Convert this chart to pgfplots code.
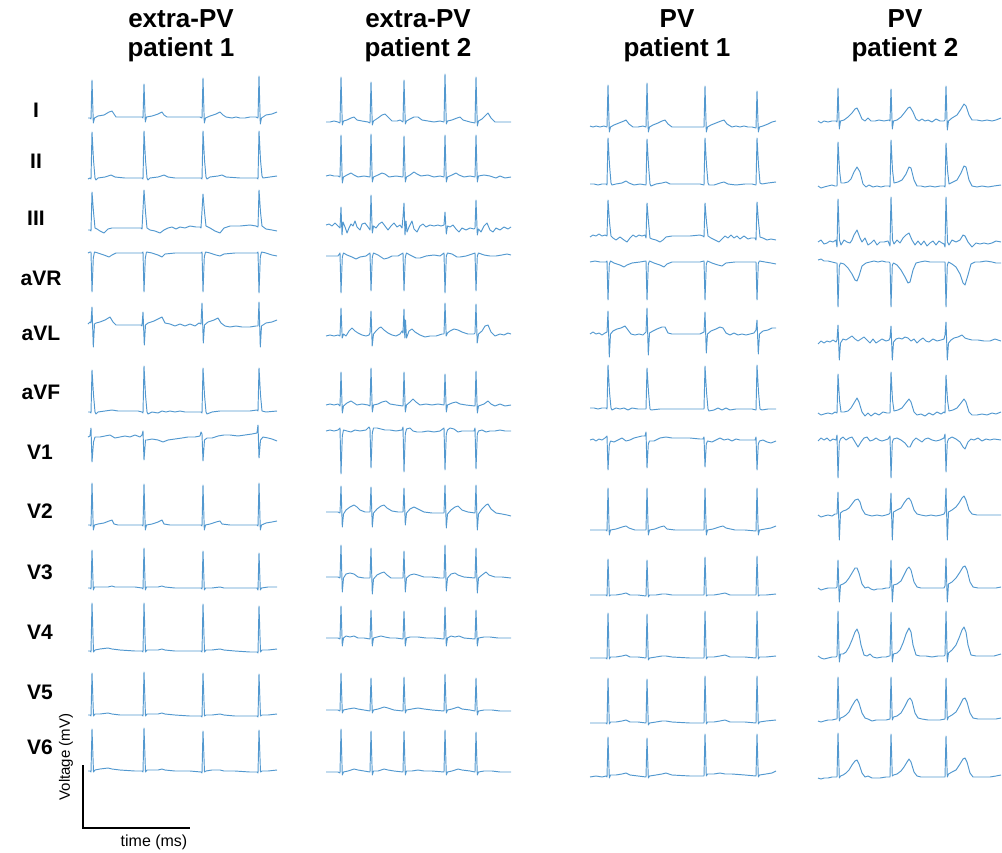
\documentclass[border=0pt]{standalone}
\usepackage{fontspec}
\setmainfont{Liberation Sans}
\usepackage{pgfplots}
\pgfplotsset{compat=1.18}
\definecolor{ecg}{RGB}{82,152,207}
\pgfplotsset{tr/.style={color=ecg,solid,line width=0.95pt,line join=round,mark=none}}
\begin{document}
\begin{tikzpicture}
\useasboundingbox (0,0) rectangle (1002pt,852pt);
\begin{axis}[at={(0,0)},anchor=south west,
  width=1002pt,height=852pt,scale only axis,
  xmin=0,xmax=1002,ymin=0,ymax=852,y dir=reverse,
  axis lines=none,ticks=none,clip=false]
% ---------- column 1: extra-PV patient 1 ----------
\addplot[tr] coordinates {(88,118)(90,118)(91,119)(92,80)(93.3,123)(94.5,118)(98,116)(104,115)(109,112)(112,111)(114,114)(116,117)(122,117)(130,117)(138,117)(142,117)(143,118)(144,84)(145.3,122)(146.5,117)(152,116)(158,114)(162,112)(164,115)(167,117)(175,117)(185,117)(195,117)(200,117)(202,118)(203,78)(204.3,123)(205.5,118)(210,116)(216,114)(220,112)(223,115)(226,117)(232,118)(236,117)(240,118)(245,118)(250,117)(256,117)(258,118)(259,76)(260.3,124)(261.5,118)(266,115)(272,114)(277,112)};
\addplot[tr] coordinates {(88,179)(90,178)(91,179)(92,132)(93.5,160)(95,178)(96,180)(98,178)(105,177)(111,175)(115,177)(125,178)(135,178)(142,178)(143,179)(144,131)(145.5,160)(147,178)(148,180)(150,178)(158,177)(164,175)(168,177)(175,178)(185,178)(195,178)(201,178)(202,179)(203,131)(204.5,160)(206,177)(207,179)(210,177)(218,176)(222,175)(226,177)(240,178)(250,178)(257,178)(258,179)(259,131)(260.5,160)(262,176)(263,178)(270,177)(277,176)};
\addplot[tr] coordinates {(88,230)(90,230)(91,231)(92,192)(93.5,212)(95,228)(97,229)(100,231)(104,233)(108,229)(112,228)(118,228)(125,228)(135,228)(141,228)(142,229)(144,190)(145.5,212)(147,228)(150,230)(155,231)(160,233)(164,230)(168,228)(172,227)(176,229)(180,227)(185,228)(190,226)(196,227)(200,227)(201,228)(203,194)(204.5,212)(206,226)(210,228)(215,231)(220,233)(224,228)(230,226)(240,226)(250,225)(256,226)(258,227)(259,190)(260.5,212)(262,226)(266,229)(272,230)(277,231)};
\addplot[tr] coordinates {(88,253)(90,252)(91,252)(92,292)(93.3,258)(94.5,252)(98,253)(104,255)(109,257)(112,255)(116,253)(125,253)(135,253)(142,253)(143,252)(144,292)(145.3,258)(146.5,252)(152,253)(158,255)(162,257)(165,254)(175,253)(190,253)(201,253)(202,252)(203,292)(204.3,257)(205.5,252)(210,253)(216,255)(220,256)(224,254)(235,253)(245,253)(257,253)(258,252)(259,293)(260.3,257)(261.5,252)(266,253)(272,255)(277,256)};
\addplot[tr] coordinates {(88,324)(90,322)(91,323)(92,307)(93.3,347)(94.5,324)(96,323)(100,322)(105,320)(110,317)(113,322)(116,325)(125,325)(135,325)(141,325)(142,326)(143,312)(144.3,345)(145.5,325)(148,323)(154,321)(160,318)(162,317)(165,323)(170,324)(175,326)(180,324)(185,326)(190,324)(195,326)(199,323)(201,324)(202,303)(203.3,343)(204.5,325)(208,322)(214,320)(218,318)(221,323)(225,326)(230,327)(236,326)(242,327)(250,327)(256,326)(258,326)(259,302)(260.3,347)(261.5,326)(266,323)(272,322)(277,320)};
\addplot[tr] coordinates {(88,412)(90,412)(91,413)(92,370)(93.5,395)(95,412)(96,414)(98,412)(105,411)(112,410)(118,411)(128,411)(138,411)(142,412)(143,413)(144,366)(145.5,395)(147,412)(148,414)(152,412)(158,413)(162,411)(166,412)(170,411)(175,412)(180,411)(185,412)(195,412)(201,412)(202,413)(203,368)(204.5,395)(206,412)(207,414)(212,412)(220,411)(228,411)(240,411)(250,411)(257,410)(258,411)(259,368)(260.5,395)(262,411)(266,412)(277,411)};
\addplot[tr] coordinates {(88,437)(90,436)(91,428)(92,462)(93.5,442)(95,437)(100,437)(105,436)(110,435)(115,438)(120,437)(125,436)(130,437)(135,435)(140,437)(142,435)(143,431)(144,460)(145.5,440)(147,440)(152,439)(158,440)(163,442)(168,440)(175,439)(182,438)(188,437)(195,437)(200,436)(201,432)(202,434)(203,461)(204.5,440)(207,438)(212,438)(218,436)(224,435)(230,435)(238,436)(245,435)(252,434)(257,433)(258,425)(259,458)(260.5,440)(263,437)(268,438)(272,439)(277,441)};
\addplot[tr] coordinates {(88,525)(90,525)(91,526)(92,483)(93.3,530)(94.5,525)(98,524)(104,523)(109,521)(112,520)(114,524)(118,525)(130,525)(142,525)(143,526)(144,484)(145.3,530)(146.5,525)(152,524)(158,522)(162,520)(164,524)(170,525)(185,525)(201,525)(202,526)(203,485)(204.3,530)(205.5,525)(210,524)(216,522)(220,521)(222,524)(230,525)(245,525)(257,525)(258,526)(259,483)(260.3,530)(261.5,525)(266,523)(272,522)(277,521)};
\addplot[tr] coordinates {(88,588)(90,588)(91,589)(92,550)(93.3,590)(94.5,587)(100,587)(108,587)(112,586)(115,587)(125,587)(135,587)(142,588)(143,589)(144,548)(145.3,590)(146.5,587)(152,587)(158,587)(162,586)(165,587)(175,588)(190,588)(201,588)(202,589)(203,551)(204.3,590)(205.5,588)(212,588)(220,587)(224,588)(235,588)(250,588)(257,588)(258,590)(259,553)(260.3,590)(261.5,588)(268,587)(277,587)};
\addplot[tr] coordinates {(88,651)(90,651)(91,652)(92,603)(93.5,652)(95,650)(100,649)(108,648)(112,649)(120,650)(135,651)(142,651)(143,652)(144,603)(145.5,652)(147,650)(152,650)(158,650)(162,649)(165,650)(175,651)(190,651)(201,651)(202,652)(203,604)(204.5,652)(206,650)(212,650)(220,649)(224,650)(235,651)(250,652)(257,652)(258,653)(259,606)(260.5,652)(262,650)(268,650)(277,649)};
\addplot[tr] coordinates {(88,715)(90,715)(91,716)(92,673)(93.5,716)(95,714)(100,714)(108,713)(112,714)(120,715)(135,715)(142,715)(143,716)(144,672)(145.5,716)(147,714)(152,714)(158,714)(162,713)(165,714)(175,715)(190,716)(201,716)(202,717)(203,673)(204.5,716)(206,715)(212,715)(220,714)(224,715)(235,716)(250,716)(257,716)(258,717)(259,674)(260.5,716)(262,715)(268,715)(277,714)};
\addplot[tr] coordinates {(88,771)(90,771)(91,772)(92,729)(93.5,772)(95,770)(100,769)(108,768)(112,769)(120,770)(135,771)(142,771)(143,772)(144,728)(145.5,772)(147,770)(152,770)(158,770)(162,769)(165,770)(175,771)(190,771)(201,772)(202,773)(203,731)(204.5,772)(206,771)(212,770)(220,770)(224,771)(235,771)(250,772)(257,772)(258,773)(259,730)(260.5,772)(262,771)(268,771)(277,770)};
% ---------- column 2: extra-PV patient 2 ----------
\addplot[tr] coordinates {(326,122)(330,122)(334,121)(338,122)(340,123)(341,77)(342.3,125)(343.5,121)(347,120)(351,118)(354,117)(357,120)(362,121)(368,122)(370,123)(371,82)(372.3,125)(373.5,121)(378,118)(382,115)(385,114)(388,117)(392,121)(397,121)(400,120)(403,122)(404,80)(405.3,124)(406.5,121)(410,119)(414,117)(418,117)(422,120)(428,121)(434,122)(440,121)(444,122)(445,74)(446.3,124)(447.5,121)(452,120)(457,118)(460,117)(463,120)(470,122)(475,123)(476,77)(477.3,126)(478.5,121)(482,119)(486,115)(488,113)(491,118)(495,122)(500,122)(505,122)(511,122)};
\addplot[tr] coordinates {(326,176)(330,175)(334,176)(338,176)(340,177)(341,135)(342.3,183)(343.5,177)(347,175)(351,173)(354,175)(358,177)(364,176)(370,177)(371,134)(372.3,182)(373.5,177)(378,175)(382,173)(385,174)(389,177)(396,176)(403,177)(404,136)(405.3,182)(406.5,177)(410,175)(414,172)(417,174)(421,176)(428,175)(434,177)(440,176)(444,177)(445,135)(446.3,182)(447.5,177)(452,175)(456,173)(459,175)(464,177)(470,176)(475,177)(476,135)(477.3,182)(478.5,176)(484,175)(490,176)(496,178)(500,176)(505,178)(511,177)};
\addplot[tr] coordinates {(326,225)(329,224)(332,226)(335,223)(338,226)(340,228)(341,207)(342,235)(343,222)(345,227)(347,233)(349,228)(351,224)(353,226)(355,221)(357,227)(360,230)(362,224)(365,223)(368,227)(370,230)(371,195)(372.3,233)(373.5,226)(376,228)(379,224)(382,222)(385,226)(388,230)(391,226)(394,223)(397,227)(400,225)(402,228)(403,217)(404,203)(405,235)(406,221)(407,232)(409,227)(412,221)(414,229)(417,232)(420,226)(423,224)(426,227)(430,225)(434,226)(438,225)(441,226)(444,225)(445,212)(446.3,234)(447.5,226)(450,227)(453,225)(456,229)(459,232)(462,228)(466,230)(470,228)(474,229)(475,228)(476,200)(477.3,235)(478.5,229)(481,232)(484,226)(487,223)(490,230)(493,232)(496,228)(500,230)(504,227)(508,229)(511,227)};
\addplot[tr] coordinates {(326,256)(332,256)(338,256)(340,253)(341,293)(342.3,257)(343.5,253)(347,255)(352,257)(356,259)(360,257)(366,256)(370,253)(371,291)(372.3,257)(373.5,253)(378,255)(384,259)(388,258)(392,256)(398,256)(403,253)(404,291)(405.3,257)(406.5,253)(410,255)(416,258)(420,258)(426,256)(434,255)(440,256)(444,253)(445,293)(446.3,256)(447.5,253)(452,254)(457,257)(460,257)(466,256)(475,253)(476,291)(477.3,256)(478.5,253)(484,255)(490,256)(496,256)(502,255)(507,254)(511,255)};
\addplot[tr] coordinates {(326,336)(330,335)(334,336)(338,335)(340,336)(341,308)(342.2,338)(343.5,334)(346,336)(349,331)(352,328)(355,331)(358,333)(362,335)(366,336)(369,335)(370,333)(371,311)(372.2,346)(373.5,334)(376,331)(379,328)(381,327)(384,330)(388,333)(392,335)(396,336)(400,334)(402,331)(403,333)(404,309)(404.8,338)(405.5,320)(406.5,338)(409,331)(412,329)(415,332)(420,335)(425,337)(430,336)(436,336)(442,334)(444,334)(445,303)(446.2,336)(447.5,333)(450,331)(454,329)(458,330)(462,332)(468,334)(474,334)(475,333)(476,304)(477.2,343)(478.5,334)(482,331)(485,326)(488,325)(491,332)(495,336)(500,334)(504,335)(508,333)(511,334)};
\addplot[tr] coordinates {(326,405)(330,404)(334,405)(338,404)(340,406)(341,372)(342.3,413)(343.5,406)(347,403)(351,401)(354,403)(357,405)(362,404)(368,405)(370,406)(371,368)(372.3,412)(373.5,405)(378,404)(382,402)(386,401)(390,404)(396,405)(403,406)(404,372)(405.3,412)(406.5,405)(410,402)(413,399)(416,402)(420,405)(426,404)(432,405)(438,404)(444,405)(445,374)(446.3,412)(447.5,405)(452,403)(456,402)(460,404)(466,405)(475,406)(476,371)(477.3,413)(478.5,406)(484,404)(488,401)(491,404)(495,406)(500,404)(505,406)(511,405)};
\addplot[tr] coordinates {(326,431)(330,430)(334,431)(338,430)(340,428)(341,474)(342.3,436)(343.5,430)(347,431)(351,432)(355,430)(360,431)(366,430)(369,427)(370,429)(371,468)(372.3,433)(373.5,428)(377,428)(381,429)(385,430)(390,430)(396,431)(402,430)(403,427)(404,472)(405.3,434)(406.5,429)(410,428)(413,431)(417,432)(422,432)(428,431)(434,432)(440,431)(444,428)(445,470)(446.3,434)(447.5,430)(450,428)(454,429)(458,432)(462,431)(468,431)(474,431)(475,428)(476,469)(477.3,434)(478.5,431)(482,430)(486,432)(490,431)(495,431)(500,430)(505,431)(511,431)};
\addplot[tr] coordinates {(326,512)(332,512)(338,512)(340,513)(341,486)(342.3,527)(343.5,514)(346,510)(350,507)(354,505)(357,507)(360,510)(365,512)(370,512)(371,487)(372.3,527)(373.5,513)(377,509)(381,506)(384,505)(387,508)(392,511)(398,512)(403,512)(404,488)(405.3,525)(406.5,513)(410,509)(414,507)(418,509)(424,512)(432,513)(440,513)(444,513)(445,485)(446.3,528)(447.5,514)(451,510)(455,507)(458,506)(462,510)(468,512)(475,513)(476,485)(477.3,530)(478.5,514)(482,509)(486,505)(488,504)(491,509)(496,513)(502,514)(507,515)(511,516)};
\addplot[tr] coordinates {(326,577)(332,577)(338,577)(340,578)(341,545)(342.3,592)(343.5,578)(346,574)(350,573)(354,574)(358,577)(364,578)(370,578)(371,548)(372.3,594)(373.5,579)(377,575)(381,573)(384,572)(387,575)(391,578)(397,578)(403,578)(404,551)(405.3,592)(406.5,578)(410,575)(414,574)(418,575)(424,577)(432,577)(440,578)(444,578)(445,545)(446.3,591)(447.5,578)(451,574)(455,573)(458,575)(464,577)(475,578)(476,548)(477.3,593)(478.5,578)(482,575)(486,572)(489,575)(495,577)(502,577)(511,578)};
\addplot[tr] coordinates {(326,638)(332,638)(338,638)(340,639)(341,606)(342.3,646)(343.5,638)(346,636)(350,637)(354,636)(358,638)(364,638)(370,639)(371,610)(372.3,646)(373.5,638)(377,637)(381,636)(385,637)(390,638)(396,638)(403,639)(404,611)(405.3,646)(406.5,638)(410,637)(418,637)(426,638)(434,638)(444,639)(445,607)(446.3,646)(447.5,638)(451,636)(455,637)(459,636)(464,638)(475,639)(476,610)(477.3,646)(478.5,638)(484,637)(490,637)(498,638)(505,638)(511,638)};
\addplot[tr] coordinates {(326,710)(332,710)(338,710)(340,711)(341,673)(342.3,713)(343.5,710)(348,709)(354,708)(358,709)(364,710)(370,711)(371,678)(372.3,713)(373.5,710)(378,709)(384,707)(388,708)(394,710)(403,711)(404,677)(405.3,713)(406.5,710)(412,709)(418,708)(424,709)(432,710)(444,711)(445,674)(446.3,713)(447.5,710)(452,709)(458,707)(462,709)(470,710)(475,711)(476,678)(477.3,715)(478.5,711)(484,710)(492,710)(500,711)(511,711)};
\addplot[tr] coordinates {(326,772)(332,772)(338,772)(340,773)(341,729)(342.3,775)(343.5,772)(348,771)(354,769)(358,770)(364,771)(370,772)(371,731)(372.3,775)(373.5,771)(378,771)(384,769)(388,770)(394,771)(403,772)(404,731)(405.3,775)(406.5,771)(412,771)(418,770)(424,771)(432,771)(444,772)(445,730)(446.3,775)(447.5,772)(452,771)(458,769)(462,770)(470,771)(475,772)(476,732)(477.3,775)(478.5,772)(484,771)(492,771)(500,772)(511,772)};
% ---------- column 3: PV patient 1 ----------
\addplot[tr] coordinates {(590,126)(593,127)(596,126)(600,127)(604,126)(607,127)(608,85)(609.3,132)(610.5,127)(614,125)(619,123)(624,121)(626,120)(629,124)(633,127)(638,127)(643,126)(646,127)(647,83)(648.3,132)(649.5,127)(653,125)(658,123)(662,121)(665,120)(668,124)(672,127)(680,127)(690,127)(700,127)(704,127)(705,86)(706.3,132)(707.5,127)(711,125)(716,123)(721,121)(724,120)(727,124)(732,127)(736,126)(740,127)(744,126)(748,127)(752,127)(756,128)(757,91)(758.3,132)(759.5,127)(763,126)(768,124)(772,122)(776,121)};
\addplot[tr] coordinates {(590,184)(594,184)(598,185)(602,184)(606,184)(607,185)(608,138)(609.5,165)(611,183)(612,185)(616,184)(622,183)(626,181)(629,183)(634,185)(640,184)(646,185)(647,139)(648.5,165)(650,184)(651,186)(656,184)(662,183)(666,182)(670,184)(680,184)(690,184)(700,184)(704,185)(705,138)(706.5,165)(708,183)(709,185)(714,185)(720,183)(724,182)(728,184)(736,185)(745,184)(752,184)(756,185)(757,138)(758.5,165)(760,183)(762,184)(768,183)(776,182)};
\addplot[tr] coordinates {(590,237)(593,235)(596,236)(599,234)(602,236)(605,235)(607,236)(608,200)(609.5,222)(611,236)(613,238)(616,240)(620,237)(624,240)(627,242)(630,238)(633,235)(636,237)(639,235)(642,236)(645,235)(646,238)(647,203)(648.5,222)(650,238)(652,239)(656,240)(660,242)(663,240)(666,237)(672,236)(680,236)(690,236)(700,235)(703,236)(704,237)(705,203)(706.5,222)(708,236)(711,238)(715,240)(719,242)(722,239)(725,236)(728,238)(731,235)(734,238)(737,236)(740,239)(744,236)(748,239)(751,238)(755,238)(756,240)(757,202)(758.5,222)(760,237)(763,238)(767,240)(771,239)(776,240)};
\addplot[tr] coordinates {(590,262)(595,261)(600,262)(606,262)(607,261)(608,300)(609.3,264)(610.5,261)(614,263)(620,265)(624,267)(627,265)(632,263)(640,262)(646,261)(647,300)(648.3,264)(649.5,261)(654,263)(660,265)(664,267)(667,264)(672,262)(685,262)(700,262)(704,261)(705,300)(706.3,264)(707.5,261)(712,263)(718,265)(722,266)(726,263)(735,262)(745,262)(756,262)(757,300)(758.3,263)(759.5,261)(765,262)(771,263)(776,264)};
\addplot[tr] coordinates {(590,334)(593,332)(596,334)(599,333)(602,335)(605,333)(607,332)(608,311)(609.3,357)(610.5,334)(613,331)(617,329)(621,328)(625,326)(628,330)(631,334)(635,335)(639,334)(643,335)(646,332)(647,308)(648.3,355)(649.5,333)(653,331)(657,329)(662,327)(665,327)(668,333)(672,334)(680,334)(690,334)(700,334)(704,332)(705,312)(706.3,353)(707.5,334)(711,331)(716,329)(720,327)(723,328)(726,333)(730,335)(734,333)(738,335)(742,334)(746,335)(750,334)(754,333)(756,330)(757,320)(758.3,354)(759.5,334)(763,331)(768,330)(772,328)(776,328)};
\addplot[tr] coordinates {(590,408)(594,408)(598,409)(602,408)(606,408)(607,409)(608,365)(609.5,392)(611,408)(612,410)(616,408)(620,409)(624,408)(628,410)(632,408)(638,409)(646,409)(647,368)(648.5,392)(650,409)(651,410)(660,409)(670,409)(680,409)(690,409)(700,409)(704,409)(705,366)(706.5,392)(708,409)(709,411)(714,410)(718,408)(722,410)(726,408)(730,410)(736,409)(745,409)(752,409)(756,410)(757,365)(758.5,392)(760,409)(762,410)(768,409)(776,409)};
\addplot[tr] coordinates {(590,440)(593,439)(596,441)(599,439)(602,440)(605,438)(607,436)(608,470)(609.3,445)(610.5,441)(614,442)(618,440)(622,438)(626,441)(630,440)(634,438)(638,437)(642,436)(645,436)(646,432)(647,468)(648.3,444)(649.5,441)(654,441)(660,438)(666,437)(672,438)(680,438)(690,438)(700,439)(703,439)(704,437)(705,467)(706.3,444)(707.5,441)(712,442)(716,440)(720,438)(724,440)(728,439)(732,441)(736,439)(740,440)(745,440)(750,440)(755,440)(756,437)(757,470)(758.3,444)(759.5,441)(763,440)(767,442)(771,443)(776,441)};
\addplot[tr] coordinates {(590,530)(596,530)(602,530)(606,530)(607,531)(608,488)(609.3,535)(610.5,530)(616,529)(622,527)(626,526)(629,528)(635,530)(642,530)(646,530)(647,488)(648.3,535)(649.5,530)(655,529)(660,527)(664,526)(667,529)(675,530)(690,530)(704,530)(705,488)(706.3,535)(707.5,530)(713,529)(719,527)(723,526)(726,528)(735,530)(745,530)(756,531)(757,488)(758.3,535)(759.5,530)(765,529)(771,528)(776,526)};
\addplot[tr] coordinates {(590,595)(596,595)(602,595)(606,595)(607,596)(608,559)(609.3,596)(610.5,595)(616,595)(622,594)(626,593)(630,595)(638,595)(646,596)(647,560)(648.3,597)(649.5,595)(656,595)(662,594)(666,594)(672,595)(690,595)(704,595)(705,557)(706.3,596)(707.5,595)(714,595)(720,594)(725,593)(730,595)(745,595)(756,595)(757,556)(758.3,596)(759.5,595)(766,595)(776,594)};
\addplot[tr] coordinates {(590,658)(596,658)(602,658)(606,658)(607,659)(608,613)(609.3,659)(610.5,657)(616,657)(622,656)(626,655)(630,657)(638,657)(646,658)(647,614)(648.3,660)(649.5,658)(656,657)(662,656)(666,656)(672,657)(690,658)(704,658)(705,611)(706.3,659)(707.5,657)(714,657)(720,656)(725,655)(730,657)(745,657)(756,658)(757,611)(758.3,659)(759.5,657)(766,657)(776,656)};
\addplot[tr] coordinates {(590,723)(596,723)(602,723)(606,723)(607,724)(608,678)(609.3,724)(610.5,722)(616,722)(622,721)(626,720)(630,722)(638,722)(646,723)(647,679)(648.3,725)(649.5,723)(656,722)(662,721)(666,721)(672,722)(690,723)(704,723)(705,676)(706.3,724)(707.5,722)(714,722)(720,721)(725,720)(730,722)(745,722)(756,723)(757,676)(758.3,724)(759.5,722)(766,721)(776,720)};
\addplot[tr] coordinates {(590,777)(596,776)(602,777)(606,776)(607,777)(608,737)(609.3,778)(610.5,775)(616,775)(622,774)(626,773)(630,775)(638,776)(646,777)(647,738)(648.3,778)(649.5,776)(656,775)(662,774)(666,773)(672,775)(690,776)(704,776)(705,734)(706.3,776)(707.5,774)(714,774)(720,773)(725,774)(732,774)(745,775)(756,776)(757,734)(758.3,777)(759.5,775)(766,774)(772,773)(776,771)};
% ---------- column 4: PV patient 2 ----------
\addplot[tr] coordinates {(818,121)(821,123)(824,121)(828,122)(832,121)(836,121)(837,122)(838,88)(839.3,129)(840.5,121)(844,120)(848,117)(852,113)(855,109)(857,108)(859,112)(862,119)(865,121)(868,118)(871,121)(875,121)(879,120)(884,121)(889,120)(890,121)(891,89)(892.3,129)(893.5,121)(897,120)(901,117)(905,112)(908,108)(910,107)(913,112)(916,119)(919,121)(922,119)(925,121)(928,120)(932,122)(936,119)(940,121)(944,121)(945,120)(946,86)(947.3,130)(948.5,121)(952,118)(957,115)(961,109)(964,104)(966,106)(969,115)(972,120)(977,120)(982,121)(987,120)(992,121)(996,120)(1001,118)};
\addplot[tr] coordinates {(818,186)(821,188)(824,187)(828,186)(832,185)(835,186)(837,186)(838,142)(839.5,170)(841,183)(844,183)(848,182)(851,179)(854,172)(857,167)(860,172)(863,184)(866,187)(869,185)(873,187)(877,186)(881,187)(885,186)(889,186)(890,187)(891,140)(892.5,170)(894,183)(898,182)(902,180)(906,174)(909,167)(911,168)(914,180)(917,186)(921,186)(925,187)(930,186)(935,187)(940,186)(944,186)(945,187)(946,143)(947.5,170)(949,184)(953,182)(957,180)(961,173)(964,166)(966,167)(969,180)(972,186)(977,187)(982,186)(988,187)(994,186)(1001,185)};
\addplot[tr] coordinates {(818,242)(821,240)(824,244)(827,243)(830,241)(833,242)(836,240)(837,247)(838,199)(839.5,240)(841,245)(844,240)(847,242)(850,243)(852,240)(854,235)(857,230)(860,238)(862,242)(865,238)(868,245)(871,243)(874,240)(877,245)(880,242)(884,242)(888,241)(890,246)(891,197)(892.5,240)(894,244)(897,240)(900,243)(903,238)(906,235)(909,233)(912,240)(915,245)(918,241)(921,245)(924,241)(927,246)(930,243)(933,241)(936,245)(939,241)(942,243)(944,244)(945,247)(946,197)(947.5,242)(949,245)(952,240)(956,242)(960,240)(963,235)(965,236)(968,242)(972,247)(976,243)(980,244)(984,243)(988,244)(992,243)(996,241)(1001,242)};
\addplot[tr] coordinates {(818,260)(821,259)(824,261)(828,261)(832,262)(836,263)(837,263)(838,307)(839.3,266)(840.5,263)(844,264)(848,268)(852,274)(855,280)(857,281)(859,276)(862,266)(866,263)(870,262)(874,261)(878,262)(882,261)(886,262)(889,262)(890,263)(891,307)(892.3,265)(893.5,263)(897,265)(901,270)(905,277)(908,283)(910,282)(913,270)(916,263)(920,262)(925,261)(930,262)(936,262)(942,262)(945,262)(946,307)(947.3,265)(948.5,262)(952,264)(956,267)(960,274)(963,283)(965,285)(968,275)(971,264)(975,262)(980,262)(986,261)(992,262)(996,263)(1001,263)};
\addplot[tr] coordinates {(818,344)(821,341)(824,343)(827,341)(830,342)(833,340)(836,342)(837,340)(838,325)(839.3,360)(840.5,343)(843,339)(846,340)(849,338)(852,336)(855,339)(858,341)(861,339)(864,337)(867,340)(870,343)(873,339)(876,343)(879,341)(882,339)(886,341)(889,340)(890,338)(891,326)(892.3,360)(893.5,342)(896,339)(899,338)(902,339)(905,337)(908,338)(911,341)(914,339)(917,343)(920,340)(923,338)(926,341)(929,342)(933,339)(937,341)(941,340)(944,339)(945,335)(946,322)(947.3,360)(948.5,343)(951,340)(954,338)(958,337)(962,335)(965,338)(968,339)(972,340)(978,340)(984,341)(990,341)(995,339)(1001,341)};
\addplot[tr] coordinates {(818,413)(821,415)(824,414)(828,413)(832,414)(835,412)(837,413)(838,374)(839.5,400)(841,412)(844,412)(848,411)(851,408)(854,403)(857,398)(859,402)(862,412)(865,416)(868,413)(871,416)(875,413)(879,415)(883,412)(887,413)(890,413)(891,372)(892.5,400)(894,411)(898,410)(902,408)(905,404)(909,399)(911,402)(914,412)(917,415)(921,414)(925,416)(929,413)(933,415)(937,412)(941,414)(944,412)(945,413)(946,375)(947.5,400)(949,411)(953,410)(957,408)(961,403)(964,399)(966,402)(969,412)(972,415)(977,415)(982,414)(987,415)(992,413)(996,414)(1001,412)};
\addplot[tr] coordinates {(818,441)(821,438)(824,440)(827,438)(830,441)(833,439)(836,440)(837,435)(838,478)(839.3,442)(840.5,439)(843,437)(846,440)(849,438)(852,437)(855,442)(858,447)(861,442)(864,438)(867,437)(870,441)(873,440)(876,438)(879,440)(882,441)(885,440)(888,439)(890,436)(891,478)(892.3,442)(893.5,439)(897,438)(901,440)(905,443)(908,447)(910,447)(913,441)(916,438)(919,440)(922,442)(925,439)(928,438)(932,440)(936,441)(940,440)(944,438)(945,434)(946,472)(947.3,442)(948.5,439)(952,437)(956,439)(960,442)(963,447)(965,449)(968,442)(971,439)(974,440)(978,438)(982,441)(986,439)(990,440)(994,439)(1001,440)};
\addplot[tr] coordinates {(818,515)(821,517)(824,516)(828,515)(832,516)(835,514)(837,514)(838,492)(839.3,540)(840.5,513)(843,511)(846,510)(849,508)(852,504)(855,500)(858,499)(860,502)(862,509)(865,514)(868,515)(872,516)(877,515)(882,516)(886,515)(889,514)(890,513)(891,493)(892.3,540)(893.5,512)(897,510)(901,508)(904,503)(907,499)(909,498)(911,501)(914,510)(917,514)(921,515)(926,516)(931,515)(936,516)(941,515)(944,514)(945,512)(946,488)(947.3,540)(948.5,512)(952,510)(956,507)(959,503)(962,498)(964,496)(966,500)(969,510)(972,514)(977,515)(983,515)(989,515)(995,515)(1001,515)};
\addplot[tr] coordinates {(818,588)(821,590)(824,589)(828,588)(832,588)(836,588)(837,587)(838,560)(839.3,602)(840.5,585)(843,584)(846,582)(849,578)(852,573)(855,568)(857,568)(859,573)(862,584)(865,588)(868,587)(871,589)(874,590)(877,589)(882,589)(886,588)(889,588)(890,587)(891,560)(892.3,602)(893.5,585)(897,584)(901,581)(904,575)(907,569)(909,567)(911,570)(914,582)(917,587)(921,588)(926,588)(932,588)(938,588)(944,588)(945,586)(946,558)(947.3,602)(948.5,584)(952,582)(956,578)(960,572)(963,567)(965,566)(967,570)(970,582)(973,587)(978,588)(984,588)(990,588)(996,588)(1001,587)};
\addplot[tr] coordinates {(818,656)(821,658)(824,659)(828,658)(832,657)(836,657)(837,656)(838,611)(839.3,662)(840.5,654)(843,654)(846,652)(849,647)(852,640)(855,632)(857,629)(859,634)(861,645)(864,655)(867,656)(870,654)(873,657)(877,658)(882,657)(886,657)(889,656)(890,656)(891,612)(892.3,662)(893.5,654)(897,653)(900,650)(903,643)(906,634)(909,628)(911,632)(913,645)(916,655)(920,656)(926,656)(932,657)(938,656)(944,656)(945,655)(946,611)(947.3,662)(948.5,653)(952,650)(956,645)(959,638)(962,630)(964,627)(966,632)(968,645)(971,655)(976,656)(982,656)(988,656)(994,656)(1001,654)};
\addplot[tr] coordinates {(818,721)(821,722)(824,721)(828,720)(832,720)(836,719)(837,719)(838,677)(839.3,721)(840.5,718)(843,717)(846,715)(849,712)(852,706)(855,701)(857,699)(859,703)(862,713)(865,718)(868,719)(872,721)(876,720)(880,720)(886,720)(890,719)(891,677)(892.3,720)(893.5,717)(897,716)(901,713)(905,706)(908,700)(910,698)(912,701)(915,713)(918,718)(922,719)(928,720)(934,720)(940,720)(945,719)(946,678)(947.3,720)(948.5,717)(952,715)(956,712)(960,705)(963,699)(965,698)(967,702)(970,713)(973,718)(978,719)(984,719)(990,719)(996,719)(1001,718)};
\addplot[tr] coordinates {(818,778)(821,779)(824,778)(828,778)(832,777)(836,777)(837,777)(838,733)(839.3,778)(840.5,776)(843,775)(846,773)(849,770)(852,765)(855,761)(857,760)(859,764)(862,773)(865,777)(868,776)(872,778)(876,778)(880,778)(886,777)(890,777)(891,734)(892.3,776)(893.5,775)(897,774)(901,771)(904,767)(907,762)(909,759)(911,762)(914,772)(917,776)(921,777)(927,777)(933,777)(940,777)(945,777)(946,736)(947.3,777)(948.5,774)(952,772)(956,770)(960,764)(963,759)(965,758)(967,762)(970,773)(973,777)(978,777)(984,777)(990,777)(996,776)(1001,775)};
% ---------- titles ----------
\begin{scope}[every node/.style={align=center,font=\fontsize{26}{29}\selectfont\bfseries,inner sep=0pt}]
\node at (axis cs:181,36) {extra-PV\\patient 1};
\node at (axis cs:418,36) {extra-PV\\patient 2};
\node at (axis cs:677,36) {PV\\patient 1};
\node at (axis cs:905,36) {PV\\patient 2};
\end{scope}
% ---------- row labels ----------
\begin{scope}[every node/.style={font=\fontsize{21}{24}\selectfont\bfseries,inner sep=0pt}]
\node at (axis cs:36,110) {I};
\node at (axis cs:36,161) {II};
\node at (axis cs:36,218) {III};
\node at (axis cs:41,278) {aVR};
\node at (axis cs:41,333) {aVL};
\node at (axis cs:41,392) {aVF};
\node at (axis cs:40,452) {V1};
\node at (axis cs:40,511) {V2};
\node at (axis cs:40,572) {V3};
\node at (axis cs:40,632) {V4};
\node at (axis cs:40,692) {V5};
\node at (axis cs:40,747) {V6};
\end{scope}
% ---------- scale bar ----------
\draw[black,line width=1.2pt] (axis cs:83,765) -- (axis cs:83,828) -- (axis cs:190,828);
\node[rotate=90,font=\fontsize{15}{17}\selectfont,inner sep=0pt] at (axis cs:66,757) {Voltage (mV)};
\node[font=\fontsize{16}{18}\selectfont,inner sep=0pt] at (axis cs:154,842) {time (ms)};
\end{axis}
\end{tikzpicture}
\end{document}
